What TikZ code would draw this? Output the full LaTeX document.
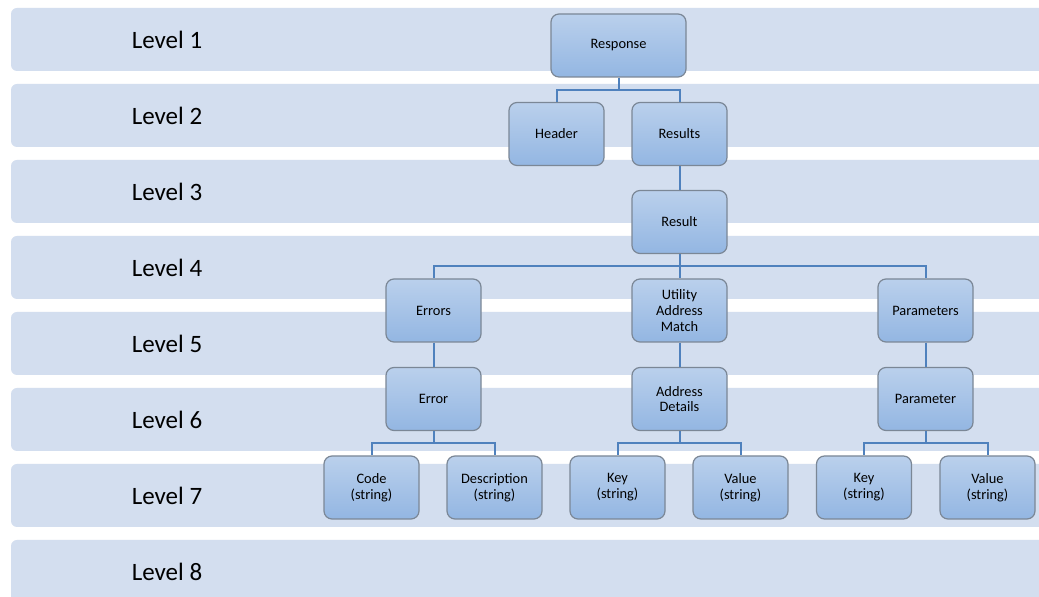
\documentclass[tikz,border=0pt]{standalone}
\usepackage{fontspec}
\setmainfont{Carlito}
\definecolor{bandfill}{HTML}{D3DEEF}
\definecolor{boxtop}{HTML}{BAD0EC}
\definecolor{boxbot}{HTML}{93B6E2}
\definecolor{boxline}{HTML}{7B8796}
\definecolor{linkblue}{HTML}{4F81BD}
\tikzset{
  band/.style={fill=bandfill, rounded corners=3pt},
  levellabel/.style={font=\fontsize{12.5}{15}\selectfont},
  box/.style={draw=boxline, line width=0.6pt, rounded corners=4pt,
    top color=boxtop, bottom color=boxbot, minimum width=47.5pt,
    minimum height=31.5pt, align=center, inner sep=0pt,
    font=\fontsize{7.2}{7.9}\selectfont},
  link/.style={draw=linkblue, line width=1pt},
}

\begin{document}
\begin{tikzpicture}[x=0.5pt,y=-0.5pt]
\clip (0,0) rectangle (1039,597);
\fill[white] (0,0) rectangle (1039,597);

% Level bands
\foreach \i in {1,...,8} {
  \pgfmathsetmacro{\bandtop}{8+76*(\i-1)}
  \fill[band] (11,\bandtop) rectangle (1060,\bandtop+63);
  \node[levellabel] (lvl\i) at (167,\bandtop+31.5) {Level \i};
}

% Tree
\node[box, minimum width=67.5pt] (resp) at (618.5,45.5) {Response};
\node[box] (head) at (556.5,134) {Header};
\node[box] (res) at (679.5,134) {Results};
\node[box] (result) at (679.5,222) {Result};

\node[box] (errs) at (433.5,310.5) {Errors};
\node[box] (uam) at (679.5,310.5) {Utility\\Address\\Match};
\node[box] (params) at (925.5,310.5) {Parameters};

\node[box] (err) at (433.5,399) {Error};
\node[box] (addr) at (679.5,399) {Address\\Details};
\node[box] (param) at (925.5,399) {Parameter};

\node[box] (code) at (371.5,487.5) {Code\\(string)};
\node[box] (desc) at (494.5,487.5) {Description\\(string)};
\node[box] (akey) at (617.5,487.5) {Key\\(string)};
\node[box] (aval) at (740.5,487.5) {Value\\(string)};
\node[box] (pkey) at (864,487.5) {Key\\(string)};
\node[box] (pval) at (987.5,487.5) {Value\\(string)};

% Connectors
\draw[link] (resp.south) -- ++(0,12) -| (head.north);
\draw[link] (resp.south) -- ++(0,12) -| (res.north);
\draw[link] (res) -- (result);
\draw[link] (result.south) -- ++(0,12) -| (errs.north);
\draw[link] (result) -- (uam);
\draw[link] (result.south) -- ++(0,12) -| (params.north);
\draw[link] (errs) -- (err);
\draw[link] (uam) -- (addr);
\draw[link] (params) -- (param);
\draw[link] (err.south) -- ++(0,12) -| (code.north);
\draw[link] (err.south) -- ++(0,12) -| (desc.north);
\draw[link] (addr.south) -- ++(0,12) -| (akey.north);
\draw[link] (addr.south) -- ++(0,12) -| (aval.north);
\draw[link] (param.south) -- ++(0,12) -| (pkey.north);
\draw[link] (param.south) -- ++(0,12) -| (pval.north);

\end{tikzpicture}
\end{document}
